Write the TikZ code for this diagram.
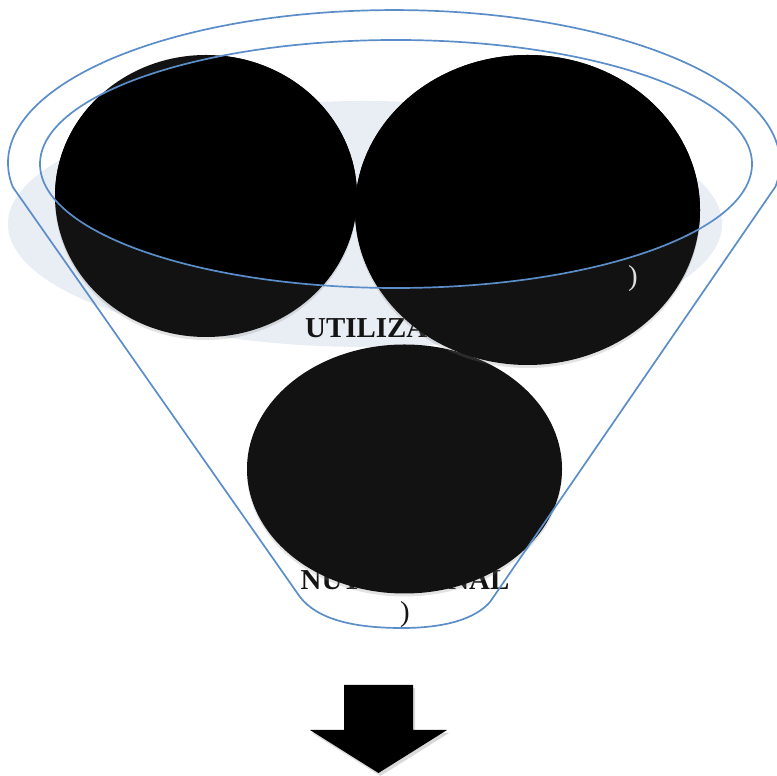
\documentclass[tikz,border=0pt]{standalone}
\usepackage{fontspec}
\setmainfont{Liberation Serif}
\usetikzlibrary{shapes.geometric,shadows}
\definecolor{funnelblue}{HTML}{5B8EC8}
\definecolor{bgblue}{HTML}{E9EDF4}
\definecolor{darkfill}{HTML}{121212}
\begin{document}
\begin{tikzpicture}[x=1bp,y=1bp,
  blob/.style={ellipse, fill=darkfill, inner sep=0pt, outer sep=0pt,
    drop shadow={shadow xshift=0bp, shadow yshift=-3bp, opacity=0.22}},
  lbl/.style={font=\fontsize{29}{32}\selectfont\bfseries, text=black!92, inner sep=0pt},
  parlbl/.style={font=\fontsize{29}{32}\selectfont, inner sep=0pt},
  funnelline/.style={draw=funnelblue, line width=1.7bp}]
\useasboundingbox (0,0) rectangle (776,776);
% background pale ellipse
\node[ellipse, fill=bgblue, inner sep=0pt, minimum width=714bp, minimum height=246bp] (bg) at (365,552) {};
% texts behind the dark ellipses
\node[lbl, anchor=base west] (util) at (305,438) {UTILIZA};
\node[lbl, anchor=base] (nut) at (405,186) {NUTRICIONAL};
\node[parlbl, text=black!92, anchor=base] (par) at (405,154) {)};
% dark ellipses
\node[blob, minimum width=315bp, minimum height=249bp] (B) at (404.5,307) {};
\node[blob, minimum width=302bp, minimum height=282bp] (L) at (206,580) {};
\node[blob, minimum width=345bp, minimum height=310bp] (R) at (527.5,566) {};
% pure black parts inside the funnel mouth
\begin{scope}
  \clip (396,612) ellipse [x radius=356, y radius=124];
  \fill[black] (L.center) ellipse [x radius=151, y radius=141];
  \fill[black] (R.center) ellipse [x radius=172.5, y radius=155];
\end{scope}
\node[parlbl, text=black!12, anchor=base] (wpar) at (633,490) {)};
% funnel
\draw[funnelline] (775.2,589) -- (490,174)
  .. controls (475,157) and (445,148) .. (402,148)
  .. controls (355,148) and (318,156) .. (300,179)
  -- (12.8,589) arc[start angle=189, end angle=-9, x radius=386, y radius=153] -- cycle;
\draw[funnelline] (396,612) ellipse [x radius=356, y radius=124];
% down arrow
\fill[black, drop shadow={shadow xshift=2bp, shadow yshift=-3bp, opacity=0.3}]
  (344,91) -- (413,91) -- (413,46) -- (447,46) -- (378.5,3) -- (310,46) -- (344,46) -- cycle;
\end{tikzpicture}
\end{document}
